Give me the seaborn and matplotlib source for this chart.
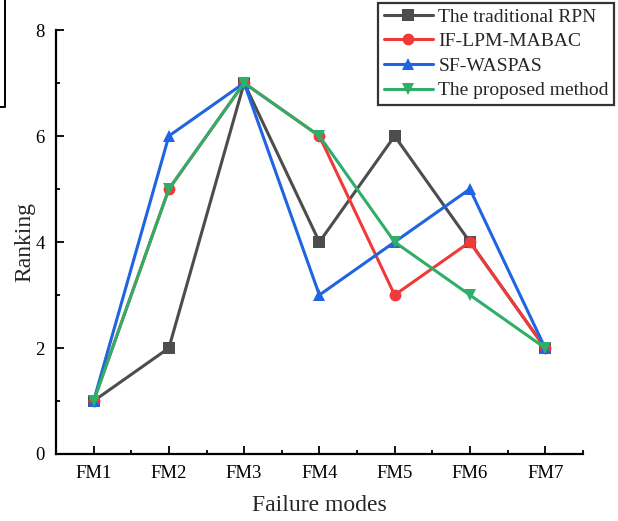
import pandas as pd
import matplotlib.pyplot as plt
import seaborn as sns
from matplotlib.ticker import MultipleLocator
from matplotlib.lines import Line2D

# Rankings of the failure modes by each method
modes = ['FM1', 'FM2', 'FM3', 'FM4', 'FM5', 'FM6', 'FM7']
rpn = [1, 2, 7, 4, 6, 4, 2]
lpm_mabac = [1, 5, 7, 6, 3, 4, 2]
sf_waspas = [1, 6, 7, 3, 4, 5, 2]
proposed = [1, 5, 7, 6, 4, 3, 2]

methods = ['The traditional RPN', 'IF-LPM-MABAC', 'SF-WASPAS', 'The proposed method']
colors = ['#4d4d4d', '#f03a3a', '#1f64e0', '#2fae68']
markers = ['s', 'o', '^', 'v']

df = pd.DataFrame({'Failure mode': modes * 4,
                   'Ranking': rpn + lpm_mabac + sf_waspas + proposed,
                   'Method': [m for m in methods for _ in modes]})
df['x'] = df['Failure mode'].map({m: i for i, m in enumerate(modes)})

sns.set_style('ticks')
plt.rcParams['font.family'] = ['Liberation Serif', 'DejaVu Serif']

fig = plt.figure(figsize=(6.18, 5.21), dpi=100)
ax = fig.add_axes([0.0906, 0.1286, 0.8524, 0.8138])

sns.lineplot(data=df, x='x', y='Ranking', hue='Method', style='Method',
             hue_order=methods, style_order=methods,
             palette=dict(zip(methods, colors)), markers=dict(zip(methods, markers)),
             dashes=False, markersize=8.5, markeredgewidth=0, linewidth=2.2,
             legend=False, ax=ax)

ax.set_xlim(-0.5, 6.5)
ax.set_ylim(0, 8)
ax.set_xticks(range(len(modes)))
ax.set_xticklabels(modes)
ax.xaxis.set_minor_locator(MultipleLocator(1, offset=0.5))
ax.yaxis.set_major_locator(MultipleLocator(2))
ax.yaxis.set_minor_locator(MultipleLocator(1))
ax.tick_params(which='both', direction='in', width=1.3, labelsize=13.5, colors='black')
ax.tick_params(which='major', length=6, pad=8)
ax.tick_params(which='minor', length=3)
ax.spines[['top', 'right']].set_visible(False)
for s in ['left', 'bottom']:
    ax.spines[s].set_linewidth(1.6)
    ax.spines[s].set_color('black')
ax.set_xlabel('Failure modes', fontsize=17, labelpad=9)
ax.set_ylabel('Ranking', fontsize=17, labelpad=0)

handles = [Line2D([], [], color=c, marker=m, markersize=8.5, markeredgewidth=0, linewidth=2.2)
           for c, m in zip(colors, markers)]
leg = ax.legend(handles, methods, loc='upper right', bbox_to_anchor=(0.994, 0.995),
                bbox_transform=fig.transFigure, fontsize=14, frameon=True, fancybox=False,
                handlelength=2.5, handletextpad=0.3, borderpad=0.28, labelspacing=0.36,
                borderaxespad=0)
leg.get_frame().set_edgecolor('black')
leg.get_frame().set_linewidth(1.6)

# fragment of the neighbouring figure at the top left corner
fig.add_artist(Line2D([0.008, 0.008, 0], [1, 0.795, 0.795], color='black', linewidth=1.4,
                      transform=fig.transFigure))

fig.savefig('out.png', dpi=100)
